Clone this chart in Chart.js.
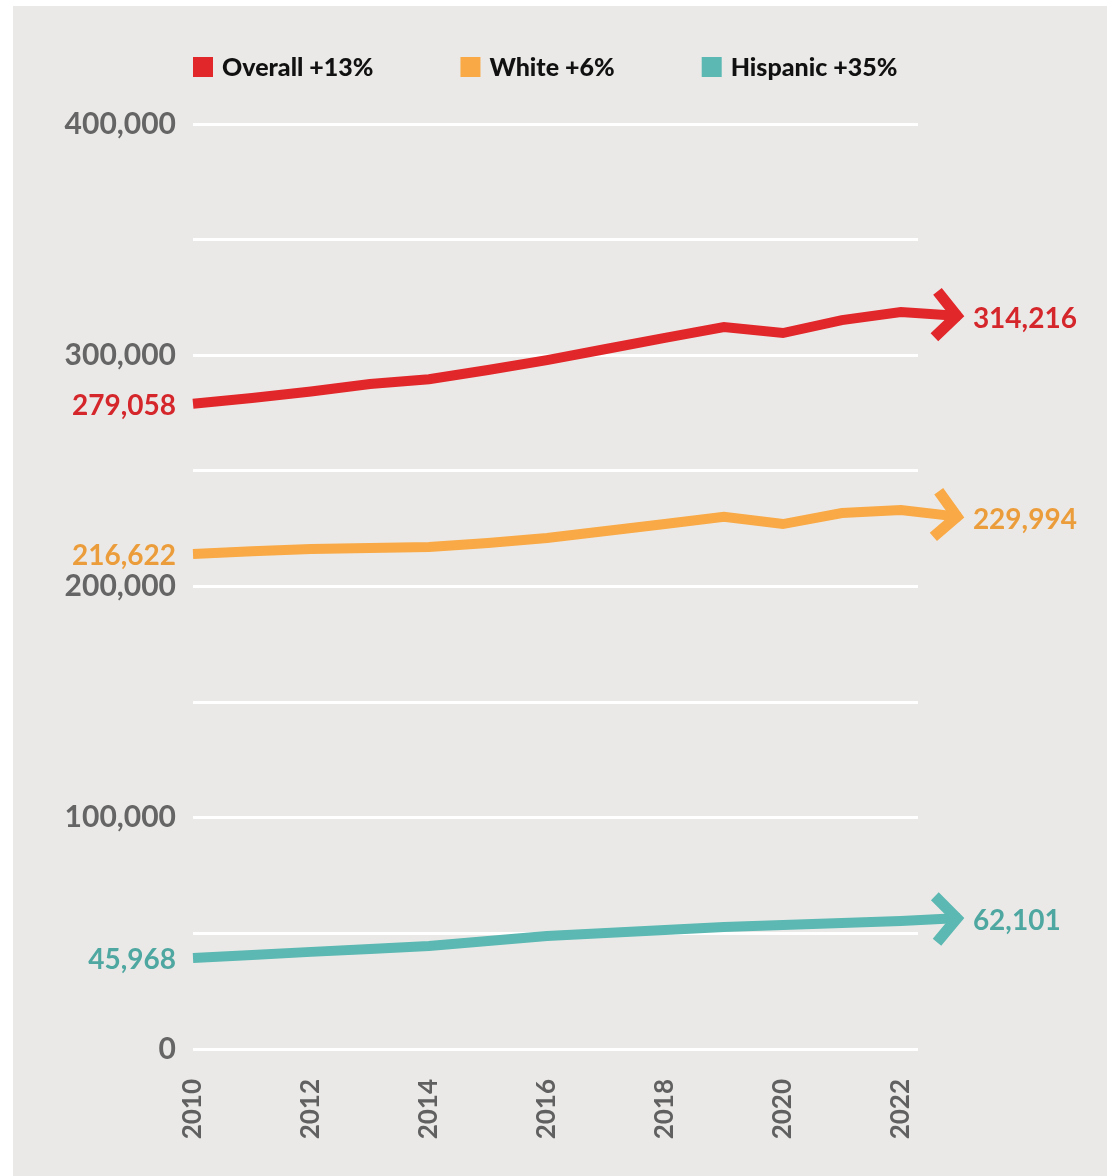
<!DOCTYPE html>
<html>
<head>
<meta charset="utf-8">
<script src="https://cdn.jsdelivr.net/npm/chart.js@4.4.0/dist/chart.umd.min.js"></script>
<style>
  body { margin: 0; background: #ffffff; }
  #wrap { position: absolute; left: 13px; top: 6px; width: 1094px; height: 1170px; background: #ebe9e7; }
</style>
</head>
<body>
<div id="wrap"><canvas id="myChart" width="1094" height="1170"></canvas></div>
<script>

// data
var years = [2010, 2011, 2012, 2013, 2014, 2015, 2016, 2017, 2018, 2019, 2020, 2021, 2022, 2023];

var overall = [279058, 281500, 284300, 287600, 289600, 293600, 297900, 302700, 307500, 312200, 309600, 315200, 318700, 317000];
var white = [214100, 215200, 216200, 216600, 217100, 218800, 221000, 224000, 227000, 230100, 227000, 231800, 233100, 230100];
var hispanic = [39400, 40600, 42000, 43200, 44500, 46700, 48900, 50200, 51500, 52800, 53600, 54500, 55400, 56600];

var seriesNames = ["Overall +13%", "White +6%", "Hispanic +35%"];
var startLabels = [279058, 216622, 45968];
var endLabels = [314216, 229994, 62101];

var yTicks = [0, 100000, 200000, 300000, 400000];
var xTickStep = 2;

var lineColors = ["#e2272a", "#f9a945", "#5bb8b2"];
var textColors = ["#d4262b", "#ec9d3b", "#4fa7a1"];

var FONT = "Lato, 'Open Sans', sans-serif";

function pts(vals) {
  return vals.map(function(v, i) { return { x: years[i], y: v }; });
}

function fmt(n) {
  return n.toLocaleString("en-US");
}

// arrow heads + start / end value labels
var annotate = {
  id: "annotate",
  afterDatasetsDraw: function(chart) {
    var ctx = chart.ctx;
    var left = chart.chartArea.left;
    chart.data.datasets.forEach(function(ds, i) {
      var p = chart.getDatasetMeta(i).data;
      var a = p[p.length - 2], b = p[p.length - 1];
      var ang = Math.atan2(b.y - a.y, b.x - a.x);

      ctx.save();
      ctx.translate(b.x, b.y);
      ctx.rotate(ang);
      ctx.strokeStyle = ds.borderColor;
      ctx.lineWidth = 11;
      ctx.lineJoin = "miter";
      ctx.lineCap = "butt";
      ctx.beginPath();
      ctx.moveTo(-24, -23);
      ctx.lineTo(-3, 0);
      ctx.lineTo(-24, 23);
      ctx.stroke();
      ctx.restore();

      ctx.save();
      ctx.font = "bold 28px " + FONT;
      ctx.fillStyle = textColors[i];
      ctx.textBaseline = "middle";
      ctx.textAlign = "left";
      ctx.fillText(fmt(endLabels[i]), b.x + 13, b.y + 3);
      ctx.textAlign = "right";
      ctx.fillText(fmt(startLabels[i]), left - 17, p[0].y + 2);
      ctx.restore();
    });
  }
};

// legend on top
var topLegend = {
  id: "topLegend",
  afterDraw: function(chart) {
    var ctx = chart.ctx;
    var x = chart.chartArea.left;
    var y = 61;
    ctx.save();
    ctx.font = "900 25px " + FONT;
    ctx.textBaseline = "middle";
    ctx.textAlign = "left";
    chart.data.datasets.forEach(function(ds) {
      ctx.fillStyle = ds.borderColor;
      ctx.fillRect(x, y - 10, 20, 20);
      ctx.fillStyle = "#111111";
      ctx.fillText(ds.label, x + 29, y + 1);
      x += 29 + ctx.measureText(ds.label).width + 87;
    });
    ctx.restore();
  }
};

var series = [overall, white, hispanic];

new Chart("myChart", {
  type: "line",
  data: {
    datasets: series.map(function(s, i) {
      return {
        label: seriesNames[i],
        data: pts(s),
        borderColor: lineColors[i],
        backgroundColor: lineColors[i],
        borderWidth: 10,
        pointRadius: 0,
        tension: 0,
        borderJoinStyle: "miter",
        clip: false
      };
    })
  },
  options: {
    responsive: false,
    animation: false,
    layout: { padding: { top: 118, right: 189, bottom: 0, left: 0 } },
    plugins: {
      legend: { display: false },
      tooltip: { enabled: false }
    },
    scales: {
      x: {
        type: "linear",
        min: years[0],
        max: 2022.29,
        grid: { display: false },
        border: { display: false },
        afterFit: function(scale) { scale.height = 127; },
        ticks: {
          stepSize: xTickStep,
          includeBounds: false,
          minRotation: 90,
          maxRotation: 90,
          padding: 22,
          color: "#606060",
          font: { family: FONT, size: 26, weight: "bold" },
          callback: function(v) { return String(v); }
        }
      },
      y: {
        min: 0,
        max: 400000,
        grid: { color: "#ffffff", lineWidth: 3, drawTicks: false },
        border: { display: false },
        afterFit: function(scale) { scale.width = 180; },
        ticks: {
          stepSize: 50000,
          padding: 17,
          color: "#656565",
          font: { family: FONT, size: 30, weight: "bold" },
          callback: function(v) { return yTicks.indexOf(v) >= 0 ? fmt(v) : ""; }
        }
      }
    }
  },
  plugins: [annotate, topLegend]
});

</script>
</body>
</html>
